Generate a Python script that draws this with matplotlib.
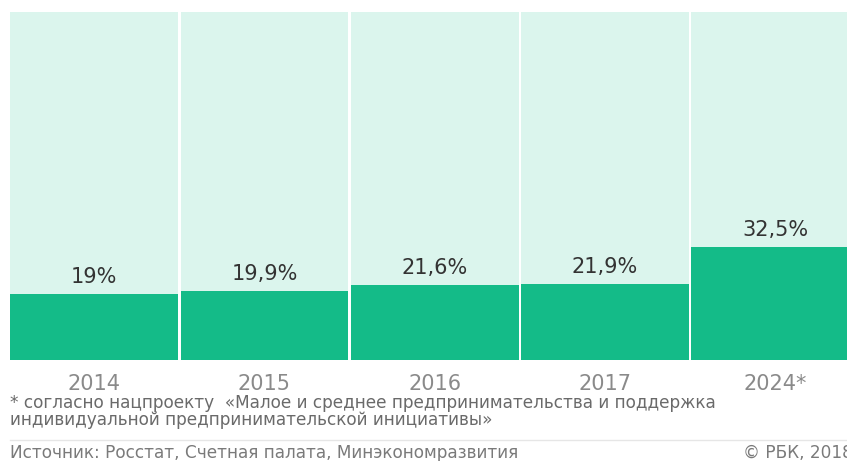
import matplotlib.pyplot as plt
from matplotlib.lines import Line2D

years = ['2014', '2015', '2016', '2017', '2024*']
shares = [19, 19.9, 21.6, 21.9, 32.5]
labels = ['19%', '19,9%', '21,6%', '21,9%', '32,5%']
full = [100, 100, 100, 100, 100]

note = ('* согласно нацпроекту  «Малое и среднее предпринимательства и поддержка\n'
        'индивидуальной предпринимательской инициативы»')
source = 'Источник: Росстат, Счетная палата, Минэкономразвития'
credit = '© РБК, 2018'

W, H = 847, 461
plt.rcParams['font.family'] = ['DejaVu Sans']

fig = plt.figure(figsize=(W / 100, H / 100), dpi=100)
# last column runs past the right edge, as in the original
ax = fig.add_axes([9 / W, (H - 360) / H, (860.5 - 9) / W, (360 - 12) / H])

x = range(len(years))
ax.bar(x, full, width=0.985, color='#dbf5ed', edgecolor='none')
ax.bar(x, shares, width=0.985, color='#14bb88', edgecolor='none')

for i, (v, lab) in enumerate(zip(shares, labels)):
    ax.annotate(lab, (i, v), xytext=(0, 5), textcoords='offset points',
                ha='center', va='bottom', fontsize=15, color='#333333')

ax.set_xlim(-0.5, len(years) - 0.5)
ax.set_ylim(0, 100)
ax.set_xticks(list(x))
ax.set_xticklabels(years, fontsize=15, color='#8a8a8a')
ax.tick_params(axis='x', length=0, pad=10)
ax.set_yticks([])
for s in ax.spines.values():
    s.set_visible(False)

# footnote as one two-line text; baseline = last line
fig.text(10 / W, 1 - 425 / H, note, ha='left', va='baseline', fontsize=12.2,
         color='#6a6a6a', linespacing=0.95)
fig.add_artist(Line2D([10 / W, 1], [1 - 440 / H, 1 - 440 / H],
                      color='#e6e6e6', lw=1))
fig.text(10 / W, 1 - 458 / H, source, ha='left', va='baseline', fontsize=12.2,
         color='#7a7a7a')
fig.text(743 / W, 1 - 458 / H, credit, ha='left', va='baseline', fontsize=12.2,
         color='#7a7a7a')

fig.savefig('out.png', dpi=100)
